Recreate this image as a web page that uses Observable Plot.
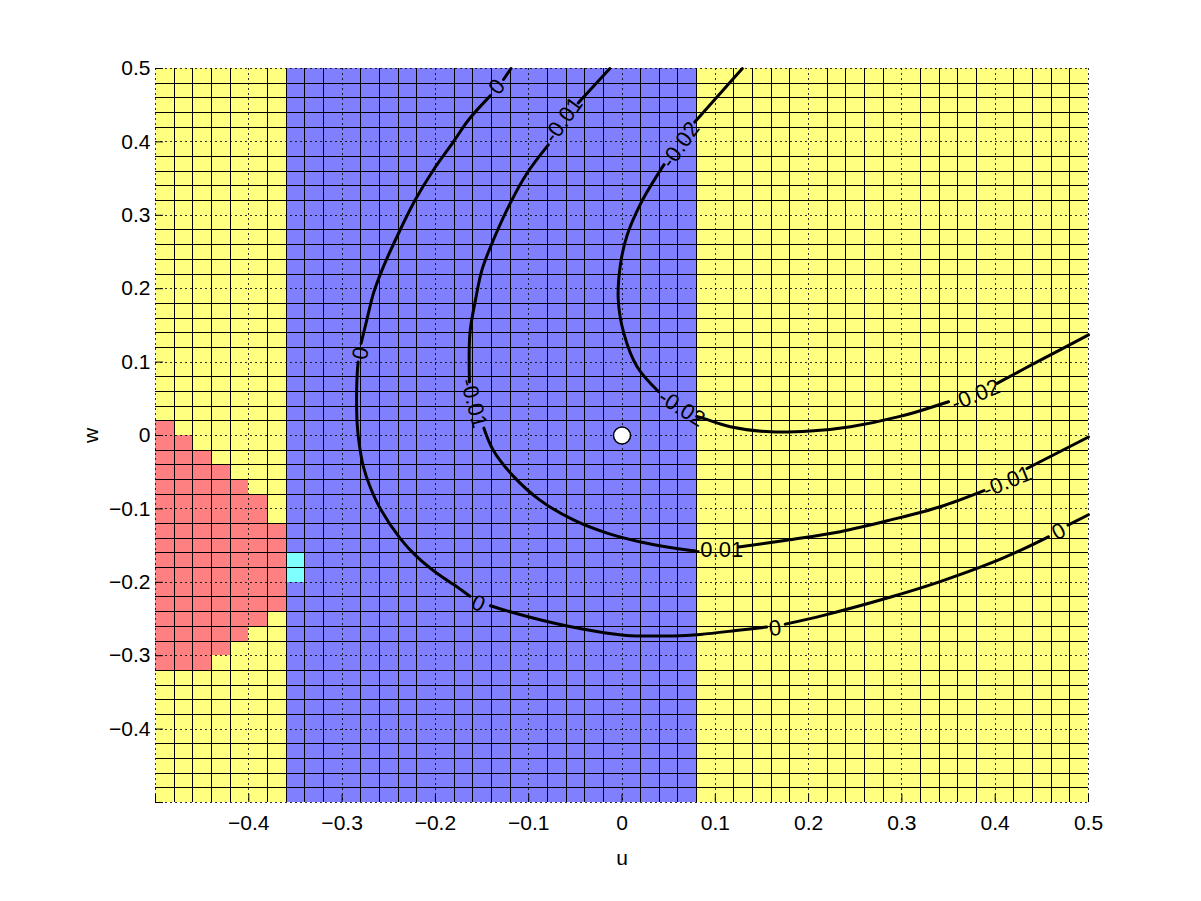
<!DOCTYPE html>
<html><head><meta charset="utf-8">
<script src="https://cdn.jsdelivr.net/npm/d3@7"></script>
<script src="https://cdn.jsdelivr.net/npm/@observablehq/plot@0.6"></script>
<style>body{margin:0;background:#fff;} #chart svg{display:block}</style>
</head><body><div id="chart"></div>
<script>
// ---- axes ----
const xTicks = [-0.4, -0.3, -0.2, -0.1, 0, 0.1, 0.2, 0.3, 0.4, 0.5];
const yTicks = [-0.4, -0.3, -0.2, -0.1, 0, 0.1, 0.2, 0.3, 0.4, 0.5];
const majorLines = [-0.5, -0.4, -0.3, -0.2, -0.1, 0, 0.1, 0.2, 0.3, 0.4, 0.5];
const cellEdges = d3.range(51).map(i => +(-0.5 + i * 0.02).toFixed(2));

// ---- cell classes ----
const classNames = ["Y", "B", "R", "C"];
const classColors = ["#FFFF80", "#8080FF", "#FF8080", "#80FFFF"];
const blueU = [-0.36, 0.08];
const redRowTop = [0.02, 0, -0.02, -0.04, -0.06, -0.08, -0.10, -0.12, -0.14, -0.16, -0.18, -0.20, -0.22, -0.24, -0.26, -0.28, -0.30];
const redRowCount = [1, 2, 3, 4, 5, 6, 6, 7, 7, 7, 7, 7, 7, 6, 5, 4, 3];
const cyanU = [-0.36, -0.36];
const cyanW = [-0.18, -0.20];

// ---- contour lines (segments, broken at labels) ----
const contour0 = [
  [[-0.119, 0.5], [-0.127, 0.485]],
  [[-0.141, 0.463], [-0.1646, 0.4298], [-0.1806, 0.4003], [-0.2021, 0.3617], [-0.2217, 0.3208], [-0.2378, 0.2800], [-0.2557, 0.2300], [-0.2664, 0.1937], [-0.2735, 0.1574], [-0.2796, 0.1257]],
  [[-0.2828, 0.1001], [-0.2838, 0.0850], [-0.2845, 0.0500], [-0.2838, 0.0150], [-0.2818, -0.0100], [-0.2772, -0.0425], [-0.2700, -0.0698], [-0.2593, -0.0992], [-0.2378, -0.1401], [-0.2199, -0.1651], [-0.1984, -0.1877], [-0.1770, -0.2060], [-0.1630, -0.2190]],
  [[-0.141, -0.232], [-0.131, -0.236], [-0.088, -0.251], [-0.045, -0.263], [0.002, -0.272], [0.055, -0.273], [0.084, -0.271], [0.127, -0.265], [0.155, -0.261]],
  [[0.175, -0.257], [0.216, -0.245], [0.288, -0.220], [0.341, -0.199], [0.395, -0.174], [0.431, -0.154], [0.457, -0.138]],
  [[0.478, -0.122], [0.5, -0.108]]
];
const contour1 = [
  [[-0.013, 0.5], [-0.047, 0.453]],
  [[-0.079, 0.396], [-0.102, 0.357], [-0.120, 0.316], [-0.138, 0.266], [-0.150, 0.226], [-0.157, 0.185], [-0.163, 0.139], [-0.1635, 0.073]],
  [[-0.148, 0.010], [-0.138, -0.020], [-0.116, -0.056], [-0.088, -0.088], [-0.052, -0.115], [-0.016, -0.133], [0.020, -0.145], [0.070, -0.156], [0.078, -0.157]],
  [[0.125, -0.152], [0.180, -0.142], [0.234, -0.131], [0.288, -0.115], [0.341, -0.097], [0.388, -0.075]],
  [[0.434, -0.045], [0.5, -0.002]]
];
const contour2 = [
  [[0.129, 0.5], [0.078, 0.427]],
  [[0.045, 0.369], [0.020, 0.316], [0.005, 0.271], [-0.002, 0.230], [-0.004, 0.185], [0.002, 0.139], [0.016, 0.094], [0.039, 0.060]],
  [[0.080, 0.026], [0.088, 0.023], [0.116, 0.012], [0.159, 0.005], [0.202, 0.006], [0.245, 0.012], [0.298, 0.026], [0.350, 0.046]],
  [[0.402, 0.071], [0.449, 0.103], [0.5, 0.137]]
];

// ---- contour labels ----
const labelText  = ["0", "0", "0", "0", "0", "-0.01", "-0.01", "-0.01", "-0.01", "-0.02", "-0.02", "-0.02"];
const labelU     = [-0.134, -0.280, -0.154, 0.164, 0.468, -0.063, -0.159, 0.103, 0.413, 0.0625, 0.064, 0.379];
const labelW     = [0.475, 0.112, -0.229, -0.263, -0.131, 0.430, 0.044, -0.156, -0.063, 0.396, 0.037, 0.055];
const labelAngle = [-52, -81, 24, -8, -27, -54, 75, 0, -22, -55, 32, -22];

// ---- build tables ----
const near = (a, b) => Math.abs(a - b) < 1e-6;
const cells = [];
for (let i = 0; i < 50; i++) {
  for (let j = 0; j < 50; j++) {
    const u1 = cellEdges[i], u2 = cellEdges[i + 1];
    const w1 = cellEdges[j], w2 = cellEdges[j + 1];
    let cls = "Y";
    if (u1 >= blueU[0] - 1e-6 && u2 <= blueU[1] + 1e-6) cls = "B";
    const r = redRowTop.findIndex(t => near(t, w2));
    if (r >= 0 && i < redRowCount[r]) cls = "R";
    for (let k = 0; k < cyanU.length; k++) if (near(cyanU[k], u1) && near(cyanW[k], w1)) cls = "C";
    cells.push({u1, u2, w1, w2, cls});
  }
}
const minorEdges = cellEdges.filter(e => !majorLines.some(m => near(m, e)));
const lines = [];
[contour0, contour1, contour2].forEach((c, ci) => c.forEach((seg, si) => seg.forEach(([u, w]) => lines.push({u, w, seg: ci + "-" + si}))));
const labels = labelText.map((t, i) => ({t, u: labelU[i], w: labelW[i], a: labelAngle[i]}));
const fmt = d => d === 0 ? "0" : d3.format(".1f")(d);

const chart = Plot.plot({
  width: 1201,
  height: 901,
  marginLeft: 155,
  marginRight: 113,
  marginTop: 68,
  marginBottom: 99,
  style: {fontFamily: "'Liberation Sans', Arial, sans-serif", fontSize: "21px", background: "white", color: "black"},
  x: {domain: [-0.5, 0.5]},
  y: {domain: [-0.5, 0.5]},
  color: {type: "ordinal", domain: classNames, range: classColors},
  marks: [
    Plot.rect(cells, {x1: "u1", x2: "u2", y1: "w1", y2: "w2", fill: "cls", shapeRendering: "crispEdges"}),
    Plot.ruleX(minorEdges, {stroke: "black", strokeWidth: 1, shapeRendering: "crispEdges"}),
    Plot.ruleY(minorEdges, {stroke: "black", strokeWidth: 1, shapeRendering: "crispEdges"}),
    Plot.ruleX(majorLines, {stroke: "black", strokeWidth: 1, strokeDasharray: "2,3", strokeOpacity: 0.8, shapeRendering: "crispEdges"}),
    Plot.ruleY(majorLines, {stroke: "black", strokeWidth: 1, strokeDasharray: "2,3", strokeOpacity: 0.8, shapeRendering: "crispEdges"}),
    Plot.axisX(majorLines, {anchor: "bottom", tickSize: -8, tickFormat: () => "", label: null, stroke: "black"}),
    Plot.axisY(majorLines, {anchor: "left", tickSize: -8, tickFormat: () => "", label: null, stroke: "black"}),
    Plot.axisX(xTicks, {anchor: "bottom", tickSize: 0, tickPadding: 13, fontSize: 21, tickFormat: fmt, label: "u", labelAnchor: "center", labelArrow: "none", labelOffset: 62}),
    Plot.axisY(yTicks, {anchor: "left", tickSize: 0, tickPadding: 5, fontSize: 21, tickFormat: fmt, label: "w", labelAnchor: "center", labelArrow: "none", labelOffset: 72}),
    Plot.line(lines, {x: "u", y: "w", z: "seg", stroke: "black", strokeWidth: 3, curve: "catmull-rom"}),
    Plot.text(labels, {x: "u", y: "w", text: "t", rotate: "a", fontSize: 22, fontFamily: "'Liberation Sans Narrow', 'Liberation Sans', Arial, sans-serif", fill: "black"}),
    Plot.dot([{u: 0, w: 0}], {x: "u", y: "w", r: 8.5, fill: "white", stroke: "black", strokeWidth: 1.5})
  ]
});
document.getElementById("chart").appendChild(chart);
</script>
</body></html>
